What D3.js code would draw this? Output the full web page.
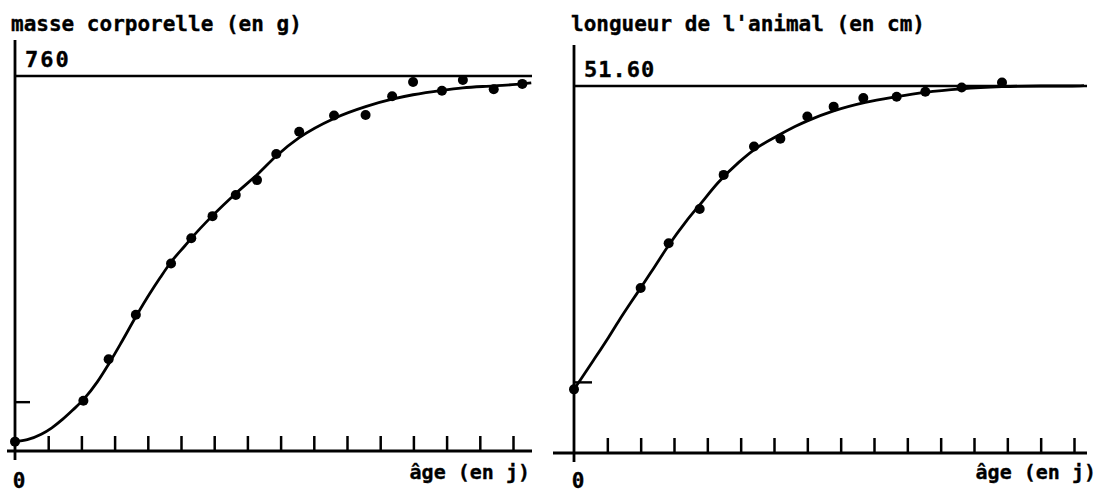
<!DOCTYPE html>
<html>
<head>
<meta charset="utf-8">
<script src="https://cdn.jsdelivr.net/npm/d3@7"></script>
<style>
  html, body { margin: 0; padding: 0; background: #fff; }
  svg { display: block; }
  text { font-family: "DejaVu Sans Mono", monospace; font-weight: bold; fill: #000; stroke: #000; stroke-width: 0.35; }
</style>
</head>
<body>
<svg id="chart" width="1101" height="492"></svg>
<script>
// ---------- Data ----------
const ageTicks = [1,2,3,4,5,6,7,8,9,10,11,12,13,14,15];

// Left panel: masse corporelle (g)
const massTitle = "masse corporelle (en g)";
const massMaxLabel = "760";
const massMax = 760;
const massTick = 100;
const massAge    = [0, 2.06, 2.82, 3.64, 4.70, 5.31, 5.95, 6.65, 7.29, 7.87, 8.56, 9.61, 10.56, 11.36, 11.99, 12.86, 13.49, 14.42, 15.28];
const massValues = [19, 102, 186, 276, 380, 431, 476, 519, 549, 602, 647, 680, 681, 719, 748, 730, 752, 733, 744];
const massCurveAge = [0, 0.37, 0.79, 1.11, 1.43, 1.74, 2.06, 2.48, 2.82, 3.22, 3.64, 4.07, 4.38, 4.70, 5.12, 5.31, 5.95, 6.65, 7.29, 7.87, 8.56, 9.61, 10.56, 11.36, 11.99, 12.86, 13.49, 14.42, 15.28, 15.55];
const massCurve    = [19, 23, 34, 47, 64, 83, 104, 140, 176, 222, 272, 320, 352, 383, 416, 431, 477, 522, 560, 598, 635, 674, 698, 713, 722, 731, 736, 740, 744, 746];

// Right panel: longueur de l'animal (cm)
const lenTitle = "longueur de l'animal (en cm)";
const lenMaxLabel = "51.60";
const lenMax = 51.6;
const lenTick = 10;
const lenAge    = [0, 2.0, 2.84, 3.77, 4.49, 5.4, 6.19, 7.0, 7.79, 8.68, 9.68, 10.54, 11.63, 12.84];
const lenValues = [8.95, 23.2, 29.5, 34.3, 39.1, 43.1, 44.2, 47.3, 48.7, 49.9, 50.1, 50.8, 51.4, 52.1];
const lenCurveAge = [0, 0.21, 0.58, 1.0, 1.32, 1.74, 2.0, 2.42, 2.84, 3.37, 3.79, 4.32, 4.95, 5.42, 6.11, 6.63, 7.0, 7.79, 8.74, 9.68, 10.53, 11.63, 12.84, 14.0, 14.95, 15.3];
const lenCurve    = [8.95, 10.4, 13.0, 16.0, 18.4, 21.4, 23.2, 26.2, 29.2, 32.6, 35.0, 38.0, 40.9, 42.7, 44.6, 45.9, 46.7, 48.1, 49.3, 50.1, 50.7, 51.2, 51.5, 51.6, 51.6, 51.65];

const xLabel = "âge (en j)";
const zeroLabel = "0";

// ---------- Drawing ----------
const svg = d3.select("#chart");

function panel(cfg) {
  const g = svg.append("g");
  const x = d3.scaleLinear().domain([0, 15]).range([cfg.x0, cfg.x15]);
  const y = d3.scaleLinear().domain([0, cfg.max]).range([cfg.yBase, cfg.yTop]);
  const sw = 2.8;

  // x axis ticks (upward)
  const xAxis = d3.axisBottom(x).tickValues(ageTicks).tickSize(-15).tickSizeOuter(0).tickFormat("");
  const gx = g.append("g").attr("transform", `translate(0,${cfg.yBase})`).call(xAxis);
  gx.select(".domain").remove();
  gx.selectAll(".tick line").attr("stroke", "#000").attr("stroke-width", 2.5);

  // x axis line
  g.append("line")
    .attr("x1", x(0) - cfg.xLeftExt).attr("x2", cfg.xEnd)
    .attr("y1", cfg.yBase).attr("y2", cfg.yBase)
    .attr("stroke", "#000").attr("stroke-width", sw);

  // y axis line
  g.append("line")
    .attr("x1", x(0)).attr("x2", x(0))
    .attr("y1", cfg.yAxisTop).attr("y2", cfg.yBase + 9)
    .attr("stroke", "#000").attr("stroke-width", sw);

  // y tick (pointing right)
  const yAxis = d3.axisLeft(y).tickValues([cfg.tick]).tickSize(-cfg.yTickLen).tickFormat("");
  const gy = g.append("g").attr("transform", `translate(${x(0)},0)`).call(yAxis);
  gy.select(".domain").remove();
  gy.selectAll(".tick line").attr("stroke", "#000").attr("stroke-width", 2.4);

  // asymptote line
  g.append("line")
    .attr("x1", x(0)).attr("x2", cfg.xEnd)
    .attr("y1", y(cfg.max)).attr("y2", y(cfg.max))
    .attr("stroke", "#000").attr("stroke-width", 2.4);

  // fitted curve
  const curvePts = cfg.curveAge.map((a, i) => [a, cfg.curve[i]]);
  g.append("path")
    .datum(curvePts)
    .attr("fill", "none").attr("stroke", "#000").attr("stroke-width", 2.8)
    .attr("stroke-linejoin", "round")
    .attr("d", d3.line().x(d => x(d[0])).y(d => y(d[1])).curve(d3.curveMonotoneX));

  // data points
  g.selectAll("circle.pt")
    .data(cfg.age.map((a, i) => [a, cfg.values[i]]))
    .join("circle")
    .attr("class", "pt")
    .attr("cx", d => x(d[0])).attr("cy", d => y(d[1]))
    .attr("r", 5).attr("fill", "#000");

  // texts
  g.append("text").attr("x", cfg.titleX).attr("y", 31).attr("font-size", 21).text(cfg.title);
  g.append("text").attr("x", cfg.maxLabelX).attr("y", y(cfg.max) - 9)
    .attr("font-size", 22).attr("letter-spacing", cfg.maxLS).text(cfg.maxLabel);
  g.append("text").attr("x", x(0) + 4).attr("y", 488).attr("text-anchor", "middle")
    .attr("font-size", 21).text(zeroLabel);
  g.append("text").attr("x", cfg.xLabelEnd).attr("y", 479).attr("text-anchor", "end")
    .attr("font-size", 20).text(xLabel);
}

panel({
  x0: 15, x15: 513, yBase: 451, yTop: 76, max: massMax, tick: massTick,
  xLeftExt: 8, xEnd: 532, yAxisTop: 40, yTickLen: 15,
  age: massAge, values: massValues, curveAge: massCurveAge, curve: massCurve,
  title: massTitle, titleX: 11, maxLabel: massMaxLabel, maxLabelX: 25, maxLS: 2,
  xLabelEnd: 530
});

panel({
  x0: 574, x15: 1074, yBase: 453, yTop: 86, max: lenMax, tick: lenTick,
  xLeftExt: 21, xEnd: 1087, yAxisTop: 45, yTickLen: 18,
  age: lenAge, values: lenValues, curveAge: lenCurveAge, curve: lenCurve,
  title: lenTitle, titleX: 571, maxLabel: lenMaxLabel, maxLabelX: 584, maxLS: 1,
  xLabelEnd: 1096
});
</script>
</body>
</html>
